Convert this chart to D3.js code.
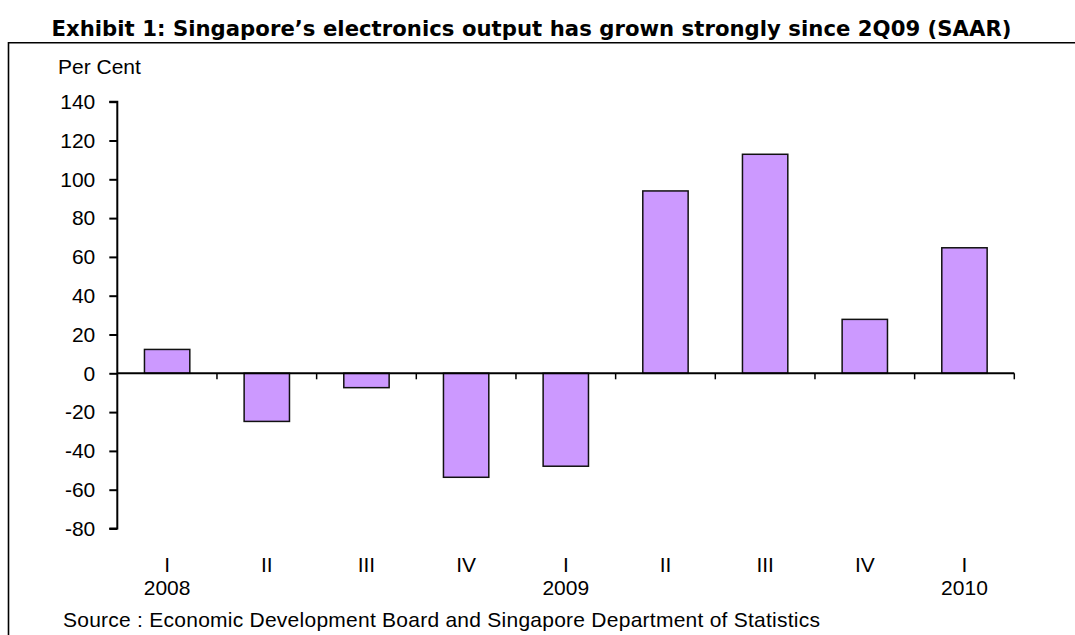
<!DOCTYPE html>
<html>
<head>
<meta charset="utf-8">
<script src="https://cdn.jsdelivr.net/npm/d3@7"></script>
<style>
  html, body { margin: 0; padding: 0; background: #fff; }
  svg { display: block; }
  .lbl { font-family: "Liberation Sans", Arial, sans-serif; font-size: 21px; fill: #000; }
  .title { font-family: "DejaVu Sans", Verdana, sans-serif; font-weight: bold; font-size: 21.2px; fill: #000; }
</style>
</head>
<body>
<svg id="chart" width="1075" height="635"></svg>
<script>
// Quarterly electronics output growth, seasonally adjusted annualised rate
const quarters = ["I", "II", "III", "IV", "I", "II", "III", "IV", "I"];
const years    = ["2008", "", "", "", "2009", "", "", "", "2010"];
const growth   = [12.3, -24.8, -7.4, -53.6, -47.9, 94.0, 112.9, 27.8, 64.7];
const yTicks   = [140, 120, 100, 80, 60, 40, 20, 0, -20, -40, -60, -80];

const titleText  = "Exhibit 1: Singapore\u2019s electronics output has grown strongly since 2Q09 (SAAR)";
const unitText   = "Per Cent";
const sourceText = "Source : Economic Development Board and Singapore Department of Statistics";

const svg = d3.select("#chart");

const x = d3.scaleBand()
  .domain(d3.range(growth.length))
  .range([117.3, 1014.3])
  .paddingInner(0)
  .paddingOuter(0);

const y = d3.scaleLinear()
  .domain([-80, 140])
  .range([528.5, 101.7]);

// Frame: rule under the title and left edge
svg.append("line")
  .attr("x1", 8.5).attr("x2", 1075)
  .attr("y1", 42.7).attr("y2", 42.7)
  .attr("stroke", "#000").attr("stroke-width", 1.6);
svg.append("line")
  .attr("x1", 8.5).attr("x2", 8.5)
  .attr("y1", 42).attr("y2", 635)
  .attr("stroke", "#000").attr("stroke-width", 1.6);

// Title
svg.append("text")
  .attr("class", "title")
  .attr("x", 51.5).attr("y", 35.5)
  .attr("textLength", 960)
  .attr("lengthAdjust", "spacing")
  .text(titleText);

// Unit label
svg.append("text")
  .attr("class", "lbl")
  .attr("x", 58).attr("y", 73.5)
  .text(unitText);

// Bars
const barW = x.bandwidth() * 0.455;
svg.append("g")
  .selectAll("rect")
  .data(growth)
  .join("rect")
  .attr("x", (d, i) => x(i) + (x.bandwidth() - barW) / 2)
  .attr("width", barW)
  .attr("y", d => y(Math.max(0, d)))
  .attr("height", d => Math.abs(y(d) - y(0)))
  .attr("fill", "#CC99FF")
  .attr("stroke", "#111")
  .attr("stroke-width", 1.5);

// Y axis (plain hyphen for negatives)
const yAxis = d3.axisLeft(y)
  .tickValues(yTicks)
  .tickSize(8)
  .tickPadding(14)
  .tickFormat(d => String(d));
const gy = svg.append("g")
  .attr("transform", `translate(${x.range()[0]},0)`)
  .call(yAxis);
gy.select(".domain").attr("stroke", "#000").attr("stroke-width", 2)
  .attr("d", `M-8,${y(140)}H0V${y(-80)}H-8`);
gy.selectAll(".tick line").attr("stroke", "#000").attr("stroke-width", 2);
gy.selectAll(".tick text")
  .attr("class", "lbl")
  .attr("fill", "#000")
  .style("font-family", "'Liberation Sans', Arial, sans-serif")
  .style("font-size", "21px");

// X axis along zero with ticks at quarter boundaries
const gx = svg.append("g");
gx.append("line")
  .attr("x1", x.range()[0]).attr("x2", x.range()[1])
  .attr("y1", y(0)).attr("y2", y(0))
  .attr("stroke", "#000").attr("stroke-width", 2);
gx.selectAll("line.tk")
  .data(d3.range(1, growth.length + 1))
  .join("line")
  .attr("class", "tk")
  .attr("x1", i => x.range()[0] + i * x.step())
  .attr("x2", i => x.range()[0] + i * x.step())
  .attr("y1", y(0)).attr("y2", y(0) + 6)
  .attr("stroke", "#000").attr("stroke-width", 1.5);

// Category labels: quarter and year
svg.append("g")
  .selectAll("text")
  .data(quarters)
  .join("text")
  .attr("class", "lbl")
  .attr("text-anchor", "middle")
  .attr("x", (d, i) => x(i) + x.bandwidth() / 2)
  .attr("y", 571.5)
  .text(d => d);
svg.append("g")
  .selectAll("text")
  .data(years)
  .join("text")
  .attr("class", "lbl")
  .attr("text-anchor", "middle")
  .attr("x", (d, i) => x(i) + x.bandwidth() / 2)
  .attr("y", 595)
  .text(d => d);

// Source note
svg.append("text")
  .attr("class", "lbl")
  .attr("x", 63).attr("y", 627)
  .attr("textLength", 757)
  .attr("lengthAdjust", "spacing")
  .text(sourceText);
</script>
</body>
</html>
